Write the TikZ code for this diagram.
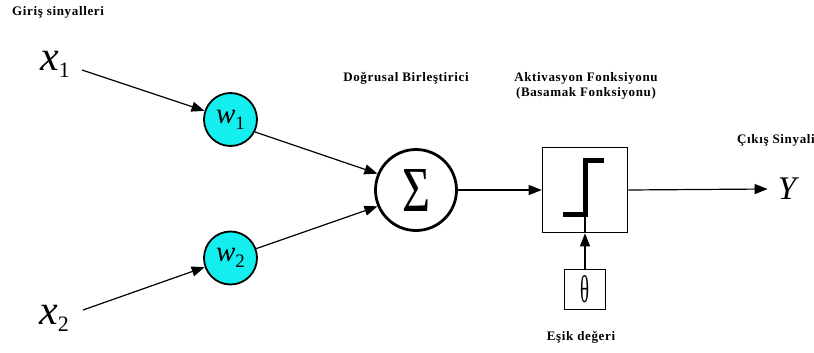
\documentclass[tikz,border=0pt]{standalone}
\usepackage{fontspec}
\setmainfont{Liberation Serif}
\newfontfamily\labelfont[LetterSpace=5]{Liberation Serif}
\usetikzlibrary{arrows.meta}
\definecolor{wcyan}{RGB}{20,238,238}
\begin{document}
\begin{tikzpicture}[x=1pt,y=-1pt,
  lbl/.style={font=\labelfont\bfseries\fontsize{13}{15}\selectfont, inner sep=0pt, align=center},
  invar/.style={inner sep=0pt, font=\fontsize{42}{42}\selectfont\itshape},
  wnode/.style={circle, draw, line width=1.8pt, fill=wcyan, minimum size=53pt, inner sep=0pt,
    font=\fontsize{29}{29}\selectfont\itshape},
  sumnode/.style={circle, draw, line width=2.8pt, minimum size=81pt, inner sep=0pt},
  actbox/.style={draw, line width=1.6pt, minimum size=85pt, inner sep=0pt},
  thbox/.style={draw, line width=1.4pt, minimum width=41pt, minimum height=40pt, inner sep=0pt},
  arr/.style={-{Triangle[length=13pt,width=10pt]}, line width=1.2pt},
  stepline/.style={line width=5pt, line join=miter},
]
\useasboundingbox (0,0) rectangle (814,353);

% input signals and weights
\node[lbl, anchor=west] (lin) at (12,12) {Giriş sinyalleri};
\node[invar] (x1) at (55,64) {x\raisebox{-7pt}{\upshape\fontsize{22}{22}\selectfont 1}};
\node[invar] (x2) at (54,318) {x\raisebox{-7pt}{\upshape\fontsize{22}{22}\selectfont 2}};
\node[wnode] (w1) at (230.5,119.5) {w\raisebox{-6pt}{\upshape\fontsize{19}{19}\selectfont 1}};
\node[wnode] (w2) at (230.5,258) {w\raisebox{-6pt}{\upshape\fontsize{19}{19}\selectfont 2}};

% summation
\node[lbl] (lsum) at (406,78) {Doğrusal Birleştirici};
\node[sumnode] (sum) at (416,190) {\resizebox{28pt}{42pt}{Σ}};

% activation function
\node[lbl] (lact) at (586,86) {Aktivasyon Fonksiyonu\\ (Basamak Fonksiyonu)};
\node[actbox] (act) at (585,190) {};
\node[thbox] (th) at (585,289.5) {\resizebox{9pt}{27pt}{θ}};
\node[lbl] (lth) at (581,337) {Eşik değeri};

% output
\node[lbl] (lout) at (776,140) {Çıkış Sinyali};
\node[inner sep=0pt, font=\fontsize{33}{33}\selectfont\itshape] (Y) at (787,189) {Y};

% step curve inside the activation box
\draw[stepline] ([shift={(-22,24)}]act.center) -- ([shift={(0,24)}]act.center)
  -- ([shift={(0,-30)}]act.center) -- ([shift={(19,-30)}]act.center);
\draw[line width=1.2pt] (act.south) -- ([shift={(0,24)}]act.center);

% connectors
\draw[arr] ([shift={(12,6)}]x1.east) -- (w1);
\draw[arr] ([shift={(14,-8)}]x2.east) -- (w2);
\draw[arr] (w1.-27) -- (sum.157);
\draw[arr] (w2.20) -- (sum.203);
\draw[arr] (sum.east) -- (act.west);
\draw[arr] (act.east) -- ([xshift=-10pt]Y.west);
\draw[arr] (th.north) -- (act.south);
\end{tikzpicture}
\end{document}
